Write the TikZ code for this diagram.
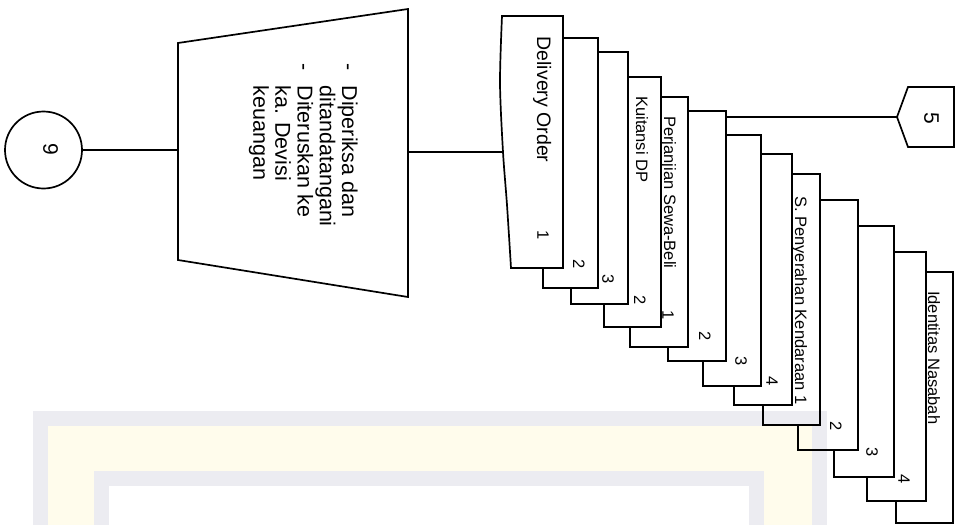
\documentclass[tikz,border=0pt]{standalone}
\usepackage{fontspec}
\setmainfont{Liberation Sans}
\definecolor{wmgray}{RGB}{236,236,241}
\definecolor{wmyellow}{RGB}{255,252,236}
\begin{document}
\begin{tikzpicture}[x=1pt, y=-1pt,
  outline/.style={draw=black, line width=1.7pt, line join=miter},
  vtext/.style={rotate=-90, inner sep=0pt, anchor=base west},
  lbl/.style={vtext, font=\fontsize{16.5}{18}\selectfont},
  num/.style={rotate=-90, inner sep=0pt, font=\fontsize{16.5}{18}\selectfont},
  big/.style={rotate=-90, inner sep=0pt, font=\fontsize{21}{23}\selectfont}]
\useasboundingbox (0,0) rectangle (959,525);

% faint framed background band along the lower edge
\fill[wmgray]   (33,411) rectangle (827,525);
\fill[wmyellow] (48,426) rectangle (812,525);
\fill[wmgray]   (94,471) rectangle (764,525);
\fill[white]    (109,486) rectangle (749,525);

% connector 9
\node[circle, outline, minimum size=77pt, inner sep=0pt] (c9) at (43.5,150) {};
\node[big] (c9txt) at (50.5,149.5) {9};

% manual operation (trapezoid)
\coordinate (trapTL) at (178,43);
\coordinate (trapTR) at (408,9);
\coordinate (trapBR) at (408,297);
\coordinate (trapBL) at (178,260);
\coordinate (trapL) at (178,150);
\coordinate (trapR) at (408,152);
\draw[outline] (trapTL) -- (trapTR) -- (trapBR) -- (trapBL) -- cycle;
\node[vtext, font=\fontsize{21.5}{22}\selectfont] (trtext) at (342,63.5) {%
  \begin{tabular}[t]{@{}l@{}}
  \makebox[22pt][l]{-}Diperiksa dan\\
  \hspace*{22pt}ditandatangani\\
  \makebox[22pt][l]{-}Diteruskan ke\\
  \hspace*{22pt}ka. Devisi\\
  \hspace*{22pt}keuangan
  \end{tabular}};

% stacked documents, back copies first (visible outline only)
\foreach \pr/\pb/\l/\t/\r/\b in {
  563/268/543/38/598/288,
  598/288/571/52/628/304,
  628/304/604/77/661/327,
  661/327/630/97/688/347,
  688/347/668/111/726/361,
  726/361/703/135/761/386,
  761/386/734/154/792/405,
  792/405/763/174/820/425,
  820/425/798/200/858/450,
  858/450/834/226/894/477,
  894/477/867/252/926/501,
  926/501/896/272/953/523}
  \draw[outline] (\pr,\t) -- (\r,\t) -- (\r,\b) -- (\l,\b) -- (\l,\pb);

% front document with wavy edge
\draw[outline] plot[smooth] coordinates {(511,268) (507,205) (503,152) (500,83) (502,16)}
  -- (563,16) -- (563,268) -- cycle;
\coordinate (doL) at (503,152);
\coordinate (d6R) at (726,117);

% document titles
\node[vtext, font=\fontsize{19.5}{21}\selectfont] (tDO) at (537,36.5) {Delivery Order};
\node[lbl] (tKDP) at (636,96) {Kuitansi DP};
\node[lbl] (tPSB) at (664,116) {Perjanjian Sewa-Beli};
\node[lbl] (tSPK) at (795,196) {S. Penyerahan Kendaraan 1};
\node[lbl] (tIN)  at (928,291) {Identitas Nasabah};

% copy numbers
\node[num] (n1)  at (543,235) {1};
\node[num] (n2)  at (579,264) {2};
\node[num] (n3)  at (608,279) {3};
\node[num] (n4)  at (640,300) {2};
\node[num] (n5)  at (668,315) {1};
\node[num] (n6)  at (705,336) {2};
\node[num] (n7)  at (741,361) {3};
\node[num] (n8)  at (772,381) {4};
\node[num] (n10) at (836,426) {2};
\node[num] (n11) at (872,452) {3};
\node[num] (n12) at (904,479) {4};

% off-page connector 5
\coordinate (op5tip) at (897,117);
\draw[outline] (op5tip) -- (908,87) -- (954,87) -- (954,147) -- (908,147) -- cycle;
\node[big] (op5txt) at (931.5,118) {5};

% flow lines
\draw[outline] (c9.east) -- (trapL);
\draw[outline] (trapR) -- (doL);
\draw[outline] (d6R) -- (op5tip);
\end{tikzpicture}
\end{document}
